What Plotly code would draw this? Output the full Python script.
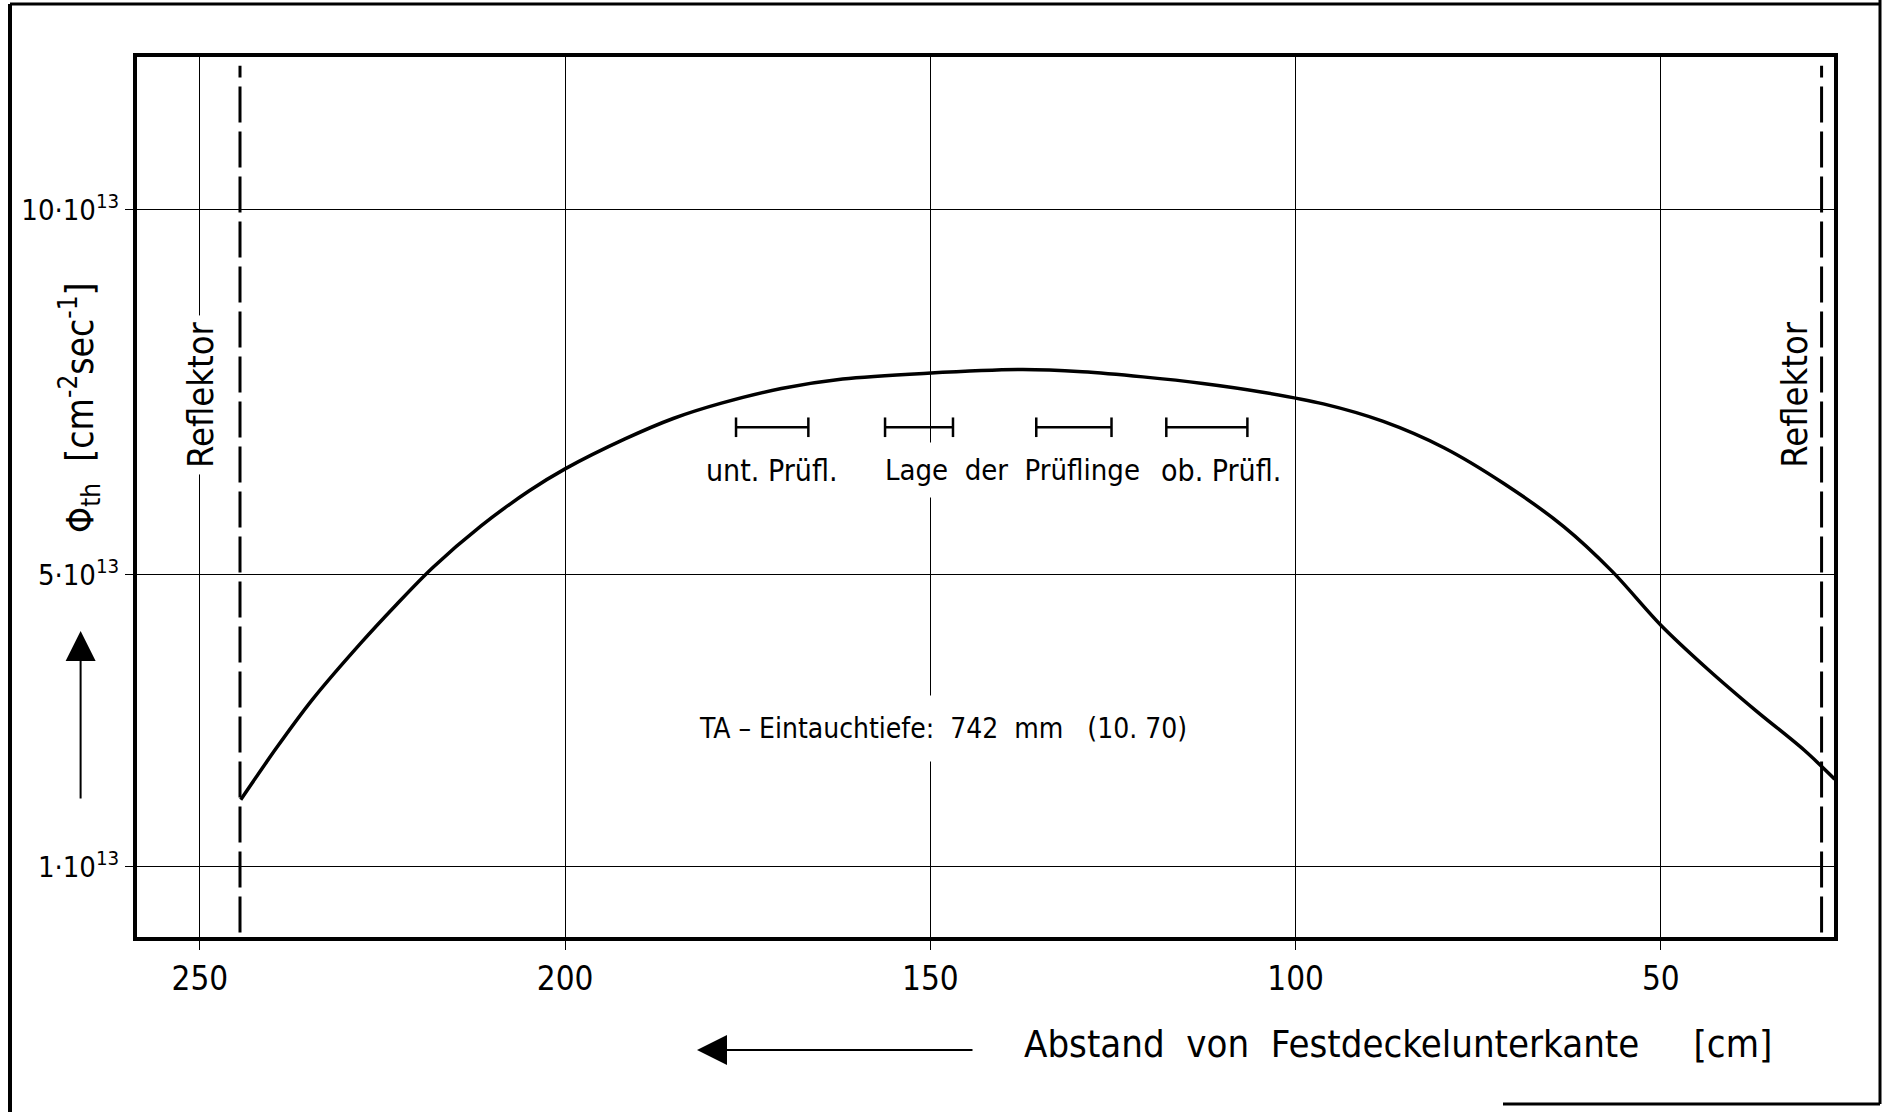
import plotly.graph_objects as go

# ---------------- data ----------------
distance_cm = [244.4, 239.5, 234.6, 228.0, 223.1, 218.1, 211.5, 204.9, 200.0, 191.8,
               185.2, 178.6, 170.4, 162.0, 150.4, 137.4, 129.2, 120.9, 112.7, 104.5,
               96.2, 88.0, 79.7, 71.5, 63.3, 56.7, 50.0, 43.5, 37.0, 30.4, 26.2]
flux_e13 = [1.92, 2.63, 3.29, 4.06, 4.59, 5.10, 5.67, 6.15, 6.45, 6.86,
            7.14, 7.35, 7.55, 7.68, 7.76, 7.81, 7.78, 7.71, 7.62, 7.50,
            7.34, 7.10, 6.74, 6.25, 5.66, 5.05, 4.31, 3.70, 3.14, 2.60, 2.20]

specimen_start = [176.6, 156.2, 135.5, 117.7]
specimen_end = [166.7, 146.9, 125.2, 106.6]
specimen_level = 7.02

reflector_cm = [244.5, 28.0]
reflector_label_cm = [250, 31.7]

x_tickvals = [250, 200, 150, 100, 50]
x_ticktext = ["250", "200", "150", "100", "50"]
y_tickvals = [1, 5, 10]
y_ticktext = ["1·10<sup>13</sup>", "5·10<sup>13</sup>", "10·10<sup>13</sup>"]

FONT = "DejaVu Sans Condensed, Liberation Sans Narrow, Liberation Sans, Arial, sans-serif"

# ---------------- figure ----------------
fig = go.Figure()

fig.add_trace(go.Scatter(
    x=distance_cm, y=flux_e13, mode="lines",
    line=dict(color="black", width=3.5, shape="spline", smoothing=0.9),
    hoverinfo="skip", showlegend=False))

for s, e in zip(specimen_start, specimen_end):
    fig.add_trace(go.Scatter(
        x=[s, e], y=[specimen_level, specimen_level], mode="lines+markers",
        line=dict(color="black", width=2.5),
        marker=dict(symbol="line-ns", size=14, line=dict(width=2.5, color="black")),
        hoverinfo="skip", showlegend=False))

shapes = []
for xr in reflector_cm:
    shapes.append(dict(type="line", xref="x", yref="paper", x0=xr, x1=xr, y0=0.005, y1=0.99,
                       line=dict(color="black", width=3, dash="36px,9px"), layer="above"))

# outer drawing frame (pixel -> paper helpers)
def px(xp):
    return (xp - 137) / 1697.0

def py(yp):
    return (937 - yp) / 880.0

frame = [
    (10, 4, 10, 1112, 4),
    (10, 4, 1880, 4, 3),
    (1880, 0, 1880, 1104, 3),
    (1503, 1104, 1880, 1104, 3),
]
for x0, y0, x1, y1, w in frame:
    shapes.append(dict(type="line", xref="paper", yref="paper",
                       x0=px(x0), y0=py(y0), x1=px(x1), y1=py(y1),
                       line=dict(color="black", width=w)))

annotations = []
# Reflektor labels
for i, xr in enumerate(reflector_label_cm):
    annotations.append(dict(x=xr, y=7.46, xref="x", yref="y", text="Reflektor",
                            textangle=-90, showarrow=False,
                            bgcolor="white" if i == 0 else "rgba(0,0,0,0)", borderpad=6,
                            xanchor="center", yanchor="middle",
                            font=dict(family=FONT, size=36, color="black")))
# specimen labels
annotations.append(dict(x=171.8, y=6.43, xref="x", yref="y", text="unt. Prüfl.",
                        showarrow=False, xanchor="center", yanchor="middle",
                        font=dict(family=FONT, size=30, color="black")))
annotations.append(dict(x=138.8, y=6.43, xref="x", yref="y", text="Lage  der  Prüflinge",
                        showarrow=False, bgcolor="white", borderpad=10,
                        xanchor="center", yanchor="middle",
                        font=dict(family=FONT, size=29, color="black")))
annotations.append(dict(x=110.2, y=6.43, xref="x", yref="y", text="ob. Prüfl.",
                        showarrow=False, xanchor="center", yanchor="middle",
                        font=dict(family=FONT, size=30, color="black")))
annotations.append(dict(x=148.3, y=2.89, xref="x", yref="y",
                        text="TA – Eintauchtiefe:  742  mm   (10. 70)",
                        showarrow=False, bgcolor="white", borderpad=16,
                        xanchor="center", yanchor="middle",
                        font=dict(family=FONT, size=28, color="black")))
# y title
annotations.append(dict(x=px(80), y=py(408), xref="paper", yref="paper",
                        text="Φ<sub>th</sub>  [cm<sup>-2</sup>sec<sup>-1</sup>]",
                        textangle=-90, showarrow=False, xanchor="center", yanchor="middle",
                        font=dict(family=FONT, size=37, color="black")))
# y arrow
annotations.append(dict(x=px(80.6), y=py(631), xref="paper", yref="paper", text="",
                        showarrow=True, ax=0, ay=169, arrowhead=2, arrowsize=3,
                        arrowwidth=2, arrowcolor="black"))
# x title
annotations.append(dict(x=px(1398), y=py(1044), xref="paper", yref="paper",
                        text="Abstand  von  Festdeckelunterkante     [cm]",
                        showarrow=False, xanchor="center", yanchor="middle",
                        font=dict(family=FONT, size=38, color="black")))
# x arrow
annotations.append(dict(x=px(697), y=py(1050), xref="paper", yref="paper", text="",
                        showarrow=True, ax=277, ay=0, arrowhead=2, arrowsize=3,
                        arrowwidth=2, arrowcolor="black"))

fig.update_layout(
    width=1886, height=1112,
    margin=dict(l=137, r=52, t=57, b=175),
    paper_bgcolor="white", plot_bgcolor="white",
    shapes=shapes, annotations=annotations,
    font=dict(family=FONT, color="black"),
    xaxis=dict(range=[258.6, 26.3], tickvals=x_tickvals, ticktext=x_ticktext,
               showgrid=True, gridcolor="black", gridwidth=1.2,
               ticks="outside", ticklen=9, tickwidth=1.2, tickcolor="black",
               showline=True, linewidth=4, linecolor="black", mirror=True,
               zeroline=False, tickfont=dict(family=FONT, size=33, color="black")),
    yaxis=dict(range=[0.04, 12.09], tickvals=y_tickvals, ticktext=y_ticktext,
               showgrid=True, gridcolor="black", gridwidth=1.2,
               ticks="outside", ticklen=8, tickwidth=1.2, tickcolor="black",
               showline=True, linewidth=4, linecolor="black", mirror=True,
               zeroline=False, tickfont=dict(family=FONT, size=29, color="black")),
)

fig.write_html("out.html")
